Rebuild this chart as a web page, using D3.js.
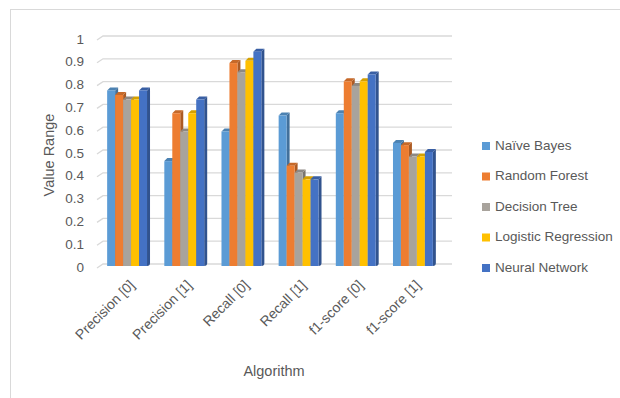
<!DOCTYPE html>
<html>
<head>
<meta charset="utf-8">
<script src="https://cdn.jsdelivr.net/npm/d3@7"></script>
<style>
  html, body { margin: 0; padding: 0; background: #ffffff; }
  svg { display: block; }
  text { font-family: "Liberation Sans", Arial, sans-serif; fill: #595959; }
</style>
</head>
<body>
<svg id="chart" width="620" height="398"></svg>
<script>
// Metrics per class and the classifiers compared on them
const categories = ["Precision [0]", "Precision [1]", "Recall [0]", "Recall [1]", "f1-score [0]", "f1-score [1]"];
const seriesNames = ["Naïve Bayes", "Random Forest", "Decision Tree", "Logistic Regression", "Neural Network"];
const naiveBayes         = [0.77, 0.46, 0.59, 0.66, 0.67, 0.54];
const randomForest       = [0.75, 0.67, 0.89, 0.44, 0.81, 0.53];
const decisionTree       = [0.73, 0.59, 0.85, 0.41, 0.79, 0.48];
const logisticRegression = [0.73, 0.67, 0.90, 0.38, 0.81, 0.48];
const neuralNetwork      = [0.77, 0.73, 0.94, 0.38, 0.84, 0.50];
const yTicks = [0, 0.1, 0.2, 0.3, 0.4, 0.5, 0.6, 0.7, 0.8, 0.9, 1];
const colors = ["#5B9BD5", "#ED7D31", "#A8A39C", "#FFC000", "#4472C4"];

const seriesValues = [naiveBayes, randomForest, decisionTree, logisticRegression, neuralNetwork];

const svg = d3.select("#chart");

// outer chart frame
svg.append("rect")
  .attr("x", 10.5).attr("y", 9.5)
  .attr("width", 640).attr("height", 420)
  .attr("fill", "none").attr("stroke", "#d9d9d9");

const x = d3.scaleBand().domain(categories).range([100, 443]).paddingInner(0.25).paddingOuter(0.125);
const xs = d3.scaleBand().domain(seriesNames).range([0, x.bandwidth() - 3]).padding(0);
const y = d3.scaleLinear().domain([0, 1]).range([266, 38]);

// depth of the 3D columns
const dx = 3, dy = 3;

// back wall gridlines with a short lip toward the value axis
const grid = svg.append("g");
yTicks.forEach(t => {
  const yy = y(t);
  grid.append("path")
    .attr("d", `M97,${yy + 2}L103,${yy - 2}L452,${yy - 2}`)
    .attr("fill", "none").attr("stroke", "#d9d9d9").attr("stroke-width", 1.3);
});

// value axis labels
svg.append("g").selectAll("text").data(yTicks).join("text")
  .attr("x", 84).attr("y", d => y(d) + 2)
  .attr("text-anchor", "end").attr("dominant-baseline", "middle")
  .attr("font-size", 13.5)
  .text(d => d3.format("")(d));

// columns: front face, right side and top, drawn left to right so each
// column covers the side of its left neighbour
const bars = svg.append("g");
categories.forEach((c, ci) => {
  seriesValues.forEach((vals, si) => {
    const x0 = x(c) + xs(seriesNames[si]);
    const w = xs.bandwidth();
    const top = y(vals[ci]);
    const bottom = y(0);
    const col = d3.color(colors[si]);
    const g = bars.append("g");
    // right side
    g.append("path")
      .attr("d", `M${x0 + w},${top}L${x0 + w + dx},${top - dy}L${x0 + w + dx},${bottom - dy}Q${x0 + w + dx},${bottom} ${x0 + w},${bottom}Z`)
      .attr("fill", col.darker(0.9));
    // top face
    g.append("path")
      .attr("d", `M${x0},${top}L${x0 + dx},${top - dy}L${x0 + w + dx},${top - dy}L${x0 + w},${top}Z`)
      .attr("fill", col.darker(0.5));
    // front face
    g.append("rect")
      .attr("x", x0).attr("y", top)
      .attr("width", w).attr("height", bottom - top)
      .attr("fill", col);
  });
});

// category labels, rotated
svg.append("g").selectAll("text").data(categories).join("text")
  .attr("transform", d => `translate(${x(d) + x.bandwidth() / 2 + 7},${286}) rotate(-45)`)
  .attr("text-anchor", "end")
  .attr("font-size", 14)
  .text(d => d);

// axis titles
svg.append("text")
  .attr("x", 274).attr("y", 376)
  .attr("text-anchor", "middle").attr("font-size", 14.5)
  .text("Algorithm");

svg.append("text")
  .attr("transform", "translate(54,155) rotate(-90)")
  .attr("text-anchor", "middle").attr("font-size", 14.5)
  .text("Value Range");

// legend
const legend = svg.append("g");
seriesNames.forEach((name, i) => {
  const ly = 146 + i * 30.5;
  legend.append("rect")
    .attr("x", 482).attr("y", ly - 4).attr("width", 8).attr("height", 8)
    .attr("fill", colors[i]);
  legend.append("text")
    .attr("x", 495).attr("y", ly)
    .attr("dominant-baseline", "middle")
    .attr("font-size", 13.5)
    .text(name);
});
</script>
</body>
</html>
